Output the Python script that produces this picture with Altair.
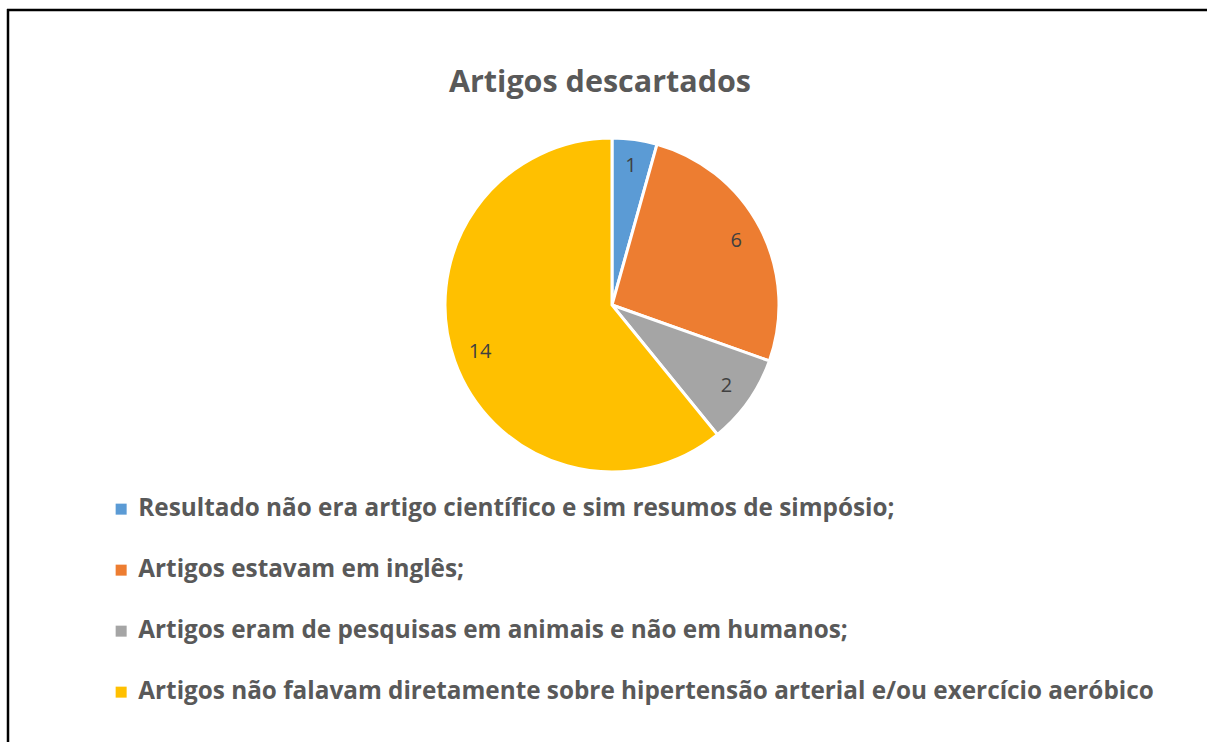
import altair as alt
import pandas as pd

categories = [
    "Resultado não era artigo científico e sim resumos de simpósio;",
    "Artigos estavam em inglês;",
    "Artigos eram de pesquisas em animais e não em humanos;",
    "Artigos não falavam diretamente sobre hipertensão arterial e/ou exercício aeróbico",
]
values = [1, 6, 2, 14]
colors = ["#5B9BD5", "#ED7D31", "#A5A5A5", "#FFC000"]
title_text = "Artigos descartados"

df = pd.DataFrame({"categoria": categories, "valor": values, "idx": list(range(len(values)))})

W, H = 1207, 742
CX, CY, R = 612, 305, 167
FONT = "Open Sans"

base = alt.Chart(df)

pie = base.mark_arc(outerRadius=R, stroke="white", strokeWidth=3).encode(
    theta=alt.Theta("valor:Q", stack=True),
    color=alt.Color(
        "categoria:N",
        scale=alt.Scale(domain=categories, range=colors),
        sort=categories,
        legend=alt.Legend(
            orient="none",
            legendX=109,
            legendY=497,
            title=None,
            symbolType="square",
            symbolSize=121,
            symbolStrokeWidth=0,
            labelFont=FONT,
            labelFontWeight="bold",
            labelFontSize=24.3,
            labelColor="#595959",
            labelLimit=1150,
            rowPadding=36,
            labelOffset=5,
        ),
    ),
    order=alt.Order("idx:Q"),
    x=alt.value(CX),
    y=alt.value(CY),
)

labels = base.mark_text(
    radius=140, font=FONT, fontSize=20, color="#404040"
).encode(
    theta=alt.Theta("valor:Q", stack=True),
    text=alt.Text("valor:Q"),
    order=alt.Order("idx:Q"),
    x=alt.value(CX),
    y=alt.value(CY),
)

title = alt.Chart(pd.DataFrame({"t": [title_text]})).mark_text(
    font=FONT, fontSize=30.5, fontWeight="bold", color="#595959", baseline="alphabetic"
).encode(text="t:N", x=alt.value(600), y=alt.value(92))

border_df = pd.DataFrame({"k": [0]})
left_border = alt.Chart(border_df).mark_rule(color="black", strokeWidth=2.5).encode(
    x=alt.value(8), y=alt.value(9), y2=alt.value(H)
)
top_border = alt.Chart(border_df).mark_rule(color="black", strokeWidth=2.5).encode(
    x=alt.value(7), x2=alt.value(W), y=alt.value(10)
)

chart = alt.layer(pie, labels, title, left_border, top_border).properties(
    width=W, height=H, padding=0, autosize=alt.AutoSizeParams(type="none"), background="white"
).configure_view(stroke=None)

chart.save("out.html", embed_options={"renderer": "svg", "actions": False})
